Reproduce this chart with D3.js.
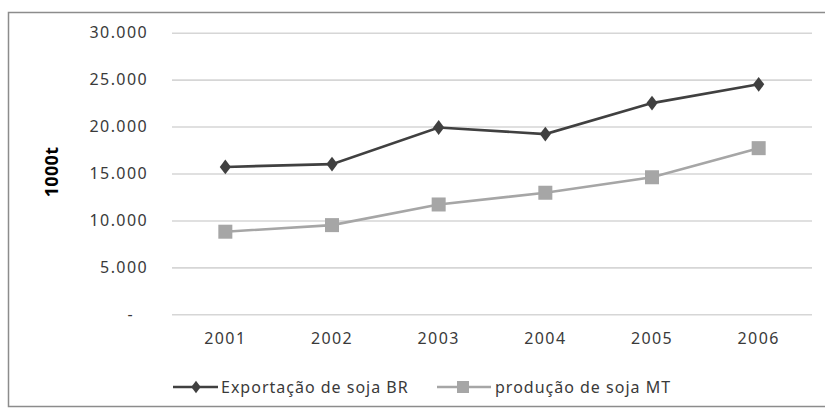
<!DOCTYPE html>
<html>
<head>
<meta charset="utf-8">
<script src="https://cdn.jsdelivr.net/npm/d3@7/dist/d3.min.js"></script>
<style>
  html, body { margin: 0; padding: 0; background: #fff; }
  svg { display: block; }
  text { font-family: "Noto Sans", "Open Sans", sans-serif; }
</style>
</head>
<body>
<svg id="chart" width="825" height="408"></svg>
<script>
// Soybean series, thousand tonnes
const years = ["2001", "2002", "2003", "2004", "2005", "2006"];
const exportBR = [15700, 16000, 19900, 19200, 22500, 24500];
const productionMT = [8800, 9500, 11700, 12950, 14600, 17700];
const yTicks = [0, 5000, 10000, 15000, 20000, 25000, 30000];
const seriesNames = ["Exportação de soja BR", "produção de soja MT"];

const svg = d3.select("#chart");
const plot = { left: 172, right: 812, top: 32.7, bottom: 314.3 };

// Outer frame
svg.append("rect")
  .attr("x", 8.5).attr("y", 12.5)
  .attr("width", 840).attr("height", 394)
  .attr("fill", "#fff")
  .attr("stroke", "#8c8c8c").attr("stroke-width", 1.5);

const x = d3.scaleBand().domain(years).range([plot.left, plot.right]);
const y = d3.scaleLinear().domain([0, 30000]).range([plot.bottom, plot.top]);

const fmt = v => v === 0 ? "-" : d3.format(",")(v).replace(/,/g, ".");

// Horizontal gridlines and value labels
const yAxis = d3.axisLeft(y)
  .tickValues(yTicks)
  .tickSize(-(plot.right - plot.left))
  .tickPadding(24)
  .tickFormat(fmt);

const gy = svg.append("g")
  .attr("transform", `translate(${plot.left},0)`)
  .call(yAxis);
gy.select(".domain").remove();
gy.selectAll(".tick line").attr("stroke", "#d6d6d6").attr("stroke-width", 1.6);
gy.selectAll(".tick text")
  .attr("fill", "#3a3a3a")
  .style("font-size", "16px")
  .style("letter-spacing", "1.4px")
  .attr("dx", d => d === 0 ? -14 : 0);

// Category labels
const xAxis = d3.axisBottom(x).tickSize(0).tickPadding(18);
const gx = svg.append("g")
  .attr("transform", `translate(0,${plot.bottom})`)
  .call(xAxis);
gx.select(".domain").remove();
gx.selectAll(".tick text")
  .attr("fill", "#3a3a3a")
  .style("font-size", "16px")
  .style("letter-spacing", "1.4px");

// Axis title
svg.append("text")
  .attr("transform", "translate(58,172) rotate(-90)")
  .attr("text-anchor", "middle")
  .attr("fill", "#000")
  .style("font-size", "18px")
  .style("font-weight", "bold")
  .style("letter-spacing", "0.3px")
  .text("1000t");

const cx = d => x(d) + x.bandwidth() / 2;
const line = d3.line().x((d, i) => cx(years[i])).y(d => y(d));

const diamond = d3.symbol().type(d3.symbolDiamond).size(64);
const expColor = "#404040";
const prodColor = "#a6a6a6";

// Production series (light gray, square markers)
svg.append("path")
  .datum(productionMT)
  .attr("d", line)
  .attr("fill", "none")
  .attr("stroke", prodColor)
  .attr("stroke-width", 2.6);
svg.append("g").selectAll("rect")
  .data(productionMT)
  .join("rect")
  .attr("x", (d, i) => cx(years[i]) - 7)
  .attr("y", d => y(d) - 7)
  .attr("width", 14).attr("height", 14)
  .attr("fill", prodColor);

// Export series (dark gray, diamond markers)
svg.append("path")
  .datum(exportBR)
  .attr("d", line)
  .attr("fill", "none")
  .attr("stroke", expColor)
  .attr("stroke-width", 2.6);
svg.append("g").selectAll("path")
  .data(exportBR)
  .join("path")
  .attr("d", diamond)
  .attr("transform", (d, i) => `translate(${cx(years[i])},${y(d)}) scale(1.3,1)`)
  .attr("fill", expColor);

// Legend
const legY = 387;
const leg = svg.append("g");
leg.append("line").attr("x1", 173).attr("x2", 218).attr("y1", legY).attr("y2", legY)
  .attr("stroke", expColor).attr("stroke-width", 2.6);
leg.append("path").attr("d", diamond)
  .attr("transform", `translate(196,${legY}) scale(1.1,0.85)`)
  .attr("fill", expColor);
leg.append("text").attr("x", 221).attr("y", legY).attr("dy", "0.35em")
  .attr("fill", "#3a3a3a").style("font-size", "16px").style("letter-spacing", "1px")
  .text(seriesNames[0]);

leg.append("line").attr("x1", 437).attr("x2", 491).attr("y1", legY).attr("y2", legY)
  .attr("stroke", prodColor).attr("stroke-width", 2.6);
leg.append("rect").attr("x", 457).attr("y", legY - 6).attr("width", 12).attr("height", 12)
  .attr("fill", prodColor);
leg.append("text").attr("x", 495).attr("y", legY).attr("dy", "0.35em")
  .attr("fill", "#3a3a3a").style("font-size", "16px").style("letter-spacing", "1px")
  .text(seriesNames[1]);
</script>
</body>
</html>
